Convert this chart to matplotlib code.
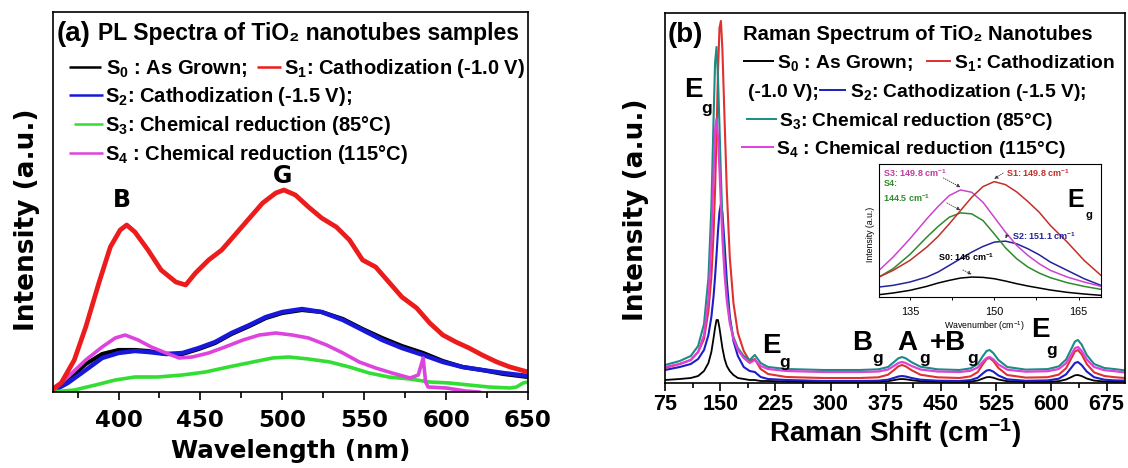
import matplotlib
matplotlib.use("Agg")
import matplotlib.pyplot as plt
from matplotlib.lines import Line2D
from matplotlib.ticker import MultipleLocator

plt.rcParams['font.family'] = ['DejaVu Sans']
plt.rcParams['mathtext.fontset'] = 'custom'
plt.rcParams['mathtext.rm'] = 'Liberation Sans'
plt.rcParams['mathtext.bf'] = 'Liberation Sans:bold'
plt.rcParams['mathtext.it'] = 'Liberation Sans:italic'

# ---------------- (a) PL spectra ----------------
pl_s0_x = [359, 369, 380, 390, 400, 410, 418, 429, 439, 449, 459, 469, 480, 490, 500, 512, 524, 537, 549, 561, 573, 586, 598, 610, 622, 635, 650]
pl_s0_y = [0, 12, 28, 38, 42, 42, 41, 38, 38, 43, 49, 58, 66, 74, 79, 82, 80, 73, 63, 54, 46, 39, 31, 25, 22, 18, 15]
pl_s1_x = [359, 365, 373, 380, 388, 395, 401, 405, 410, 418, 426, 435, 441, 447, 455, 463, 471, 480, 488, 496, 501, 508, 516, 524, 533, 541, 549, 557, 565, 573, 582, 590, 598, 606, 614, 622, 631, 639, 650]
pl_s1_y = [2, 9, 32, 65, 109, 145, 162, 167, 160, 142, 122, 110, 107, 119, 132, 142, 157, 174, 189, 199, 202, 197, 185, 174, 165, 152, 132, 125, 110, 95, 84, 69, 57, 50, 44, 37, 30, 25, 20]
pl_s2_x = [359, 369, 380, 390, 400, 410, 418, 429, 439, 449, 459, 469, 480, 490, 500, 512, 524, 537, 549, 561, 573, 586, 598, 610, 622, 635, 650]
pl_s2_y = [0, 9, 22, 34, 39, 41, 40, 38, 39, 44, 50, 59, 67, 75, 80, 83, 80, 72, 62, 52, 44, 37, 30, 25, 22, 19, 16]
pl_s3_x = [359, 373, 386, 398, 410, 424, 439, 453, 467, 482, 494, 504, 516, 529, 541, 553, 565, 578, 590, 602, 614, 626, 639, 643, 647, 650]
pl_s3_y = [0, 2, 7, 12, 15, 15, 17, 20, 25, 30, 34, 35, 33, 30, 25, 19, 15, 13, 10, 9, 7, 5, 4, 5, 9, 10]
pl_s4_x = [359, 369, 380, 390, 398, 404, 412, 420, 429, 437, 445, 455, 465, 476, 486, 496, 506, 516, 527, 537, 547, 557, 567, 578, 583, 586, 587.5, 589, 600, 612, 620]
pl_s4_y = [0, 15, 32, 45, 54, 57, 52, 45, 39, 34, 35, 39, 45, 52, 57, 59, 57, 54, 47, 39, 30, 24, 19, 14, 17, 34, 10, 5, 4, 1, 0]
pl_ticks = [400, 450, 500, 550, 600, 650]

# ---------------- (b) Raman spectra ----------------
ram_x = [75, 95, 110, 120, 128, 134, 138, 141, 143, 145, 147, 149, 151, 153, 156, 159, 163, 168, 174, 182,
         190, 197, 205, 215, 240, 290, 340, 365, 378, 387, 392, 397, 402, 410, 422, 445, 475, 490, 500, 507,
         512, 516, 521, 528, 540, 565, 595, 610, 620, 627, 632, 636, 641, 648, 658, 672, 686, 700]
ram_s0 = [3, 4, 5, 7, 12, 20, 31, 45, 55, 63, 63, 55, 45, 35, 24, 17, 12, 8, 5, 4,
          3, 3, 2, 2, 1.5, 1, 1, 1.2, 1.8, 3, 3.7, 4, 3.7, 2.8, 1.8, 1.2, 1, 1.4, 2.5, 4.5,
          5.8, 6, 5.3, 3.5, 1.8, 1.1, 1.2, 1.8, 3.5, 5.9, 7.7, 8, 7, 4.5, 2.4, 1.5, 1.2, 1.1]
ram_s1 = [15, 19, 23, 31, 44, 72, 106, 150, 193, 249, 311, 355, 362, 333, 262, 192, 126, 80, 50, 32,
          22, 24, 14, 9, 6, 5, 5, 5.7, 8.3, 13.5, 16.7, 18, 16.7, 12.8, 8.3, 5.7, 5, 6.6, 11, 19,
          24, 25, 22, 15, 8, 5.4, 5.8, 8.4, 14.8, 24.6, 31.6, 33, 28.8, 19, 10.6, 7, 5.8, 5]
ram_s2 = [13, 16, 19, 24, 33, 48, 66, 87, 106, 128, 152, 171, 179, 170, 138, 102, 67, 42, 27, 16,
          12, 11, 6, 4, 3, 2, 2, 2.3, 3.3, 5.3, 6.5, 7, 6.5, 5, 3.3, 2.3, 2, 2.9, 5.3, 9.7,
          12.5, 13, 11.4, 7.5, 3.7, 2.2, 2.6, 4.3, 8.7, 15.3, 20, 21, 18, 11.5, 5.8, 3.3, 2.6, 2.4]
ram_s3 = [18, 22, 27, 37, 59, 105, 176, 264, 320, 336, 305, 257, 207, 163, 117, 88, 63, 46, 35, 27,
          23, 28, 20, 16, 14, 13, 13, 13.7, 16, 21.5, 24.7, 26, 24.7, 20.8, 16.3, 13.7, 13, 14.6, 19, 27,
          32, 33, 30, 23, 16, 13.4, 13.9, 16.6, 23.5, 34, 41.5, 43, 38.5, 28, 19, 15, 13.9, 12.6]
ram_s4 = [16, 19, 23, 31, 48, 84, 140, 209, 253, 264, 246, 214, 178, 145, 108, 82, 60, 44, 33, 25,
          20, 23, 17, 14, 12, 11, 11, 11.5, 13.5, 17.5, 20, 21, 20, 17, 13.5, 11.5, 11, 12.2, 15.5, 21.5,
          25, 26, 23.8, 18.5, 13.3, 11.3, 11.8, 14, 19.8, 28.5, 34.8, 36, 32.3, 23.5, 16, 12.8, 11.8, 10.5]
ram_ticks = [75, 150, 225, 300, 375, 450, 525, 600, 675]

# ---------------- inset (Eg region) ----------------
ins_x = [129.5, 132, 135, 138, 140, 142, 144, 146, 148, 150, 152, 154, 156, 158, 160, 163, 166, 169]
ins_black = [7, 12, 20, 32, 42, 50, 57, 60, 59, 55, 48, 40, 33, 27, 21, 14, 9, 5]
ins_red = [60, 80, 110, 150, 182, 220, 260, 300, 332, 347, 338, 316, 287, 255, 215, 165, 110, 65]
ins_blue = [30, 35, 45, 60, 75, 95, 115, 135, 152, 165, 168, 160, 145, 127, 105, 80, 55, 35]
ins_green = [60, 85, 128, 180, 212, 240, 253, 250, 230, 190, 148, 115, 90, 72, 58, 43, 32, 23]
ins_magenta = [80, 120, 175, 235, 272, 305, 322, 315, 285, 240, 195, 155, 125, 100, 80, 60, 45, 32]
ins_ticks = [135, 150, 165]

W, H = 1128, 468
fig = plt.figure(figsize=(W / 100, H / 100), dpi=100)

LIB = 'Liberation Sans'
DJV = 'DejaVu Sans'


def ftxt(px, py, s, size, family=LIB, color='black', ha='left', va='baseline', weight='bold'):
    fig.text(px / W, 1 - py / H, s, fontsize=size, fontfamily=family, color=color,
             ha=ha, va=va, fontweight=weight)


def fhandle(px0, px1, py, color, lw=1.8):
    fig.add_artist(Line2D([px0 / W, px1 / W], [1 - py / H] * 2, transform=fig.transFigure,
                          color=color, lw=lw, solid_capstyle='butt'))


# ======== panel (a) ========
c_a = {'s0': '#000000', 's1': '#ec1c1c', 's2': '#1818d8', 's3': '#33dd33', 's4': '#dd44dd'}
ax1 = fig.add_axes([53 / W, 1 - 392 / H, 475 / W, 380 / H])
ax1.plot(pl_s0_x, pl_s0_y, color=c_a['s0'], lw=3.0)
ax1.plot(pl_s2_x, pl_s2_y, color=c_a['s2'], lw=3.2)
ax1.plot(pl_s3_x, pl_s3_y, color=c_a['s3'], lw=2.6)
ax1.plot(pl_s4_x, pl_s4_y, color=c_a['s4'], lw=2.6)
ax1.plot(pl_s1_x, pl_s1_y, color=c_a['s1'], lw=3.4)
ax1.set_xlim(360, 650)
ax1.set_ylim(0, 380)
ax1.set_yticks([])
ax1.set_xticks(pl_ticks)
ax1.set_xticklabels([str(t) for t in pl_ticks], fontsize=16.5, fontweight='bold', fontfamily=DJV)
ax1.xaxis.set_minor_locator(MultipleLocator(25))
ax1.tick_params(axis='x', which='major', direction='out', length=6, width=1.2, pad=6)
ax1.tick_params(axis='x', which='minor', direction='out', length=4, width=1.2)
for sp in ax1.spines.values():
    sp.set_linewidth(1.2)
ax1.set_xlabel('Wavelength (nm)', fontsize=17.7, fontweight='bold', fontfamily=DJV)
ax1.xaxis.label.set_va('center')
ax1.xaxis.set_label_coords(0.5, (392 - 451) / 380)
ax1.set_ylabel('Intensity (a.u.)', fontsize=19, fontweight='bold', fontfamily=DJV)
ax1.yaxis.label.set_va('center')
ax1.yaxis.set_label_coords((27 - 53) / 475, (392 - 220) / 380)

ftxt(57, 41, '(a)', 20)
ftxt(98, 40, 'PL Spectra of TiO\u2082 nanotubes samples', 16.5)
fhandle(69, 101, 67, c_a['s0'])
ftxt(106, 74.3, r'S$_\mathbf{0}$ : As Grown;', 14.5)
fhandle(257, 281, 67, c_a['s1'])
ftxt(284, 74.3, r'S$_\mathbf{1}$: Cathodization (-1.0 V)', 14.5)
fhandle(69, 103, 95, c_a['s2'])
ftxt(105, 102.3, r'S$_\mathbf{2}$: Cathodization (-1.5 V);', 14.5)
fhandle(74, 103, 124, c_a['s3'])
ftxt(105, 131.3, r'S$_\mathbf{3}$: Chemical reduction (85°C)', 14.5)
fhandle(69, 103, 153, c_a['s4'])
ftxt(105, 160.3, r'S$_\mathbf{4}$ : Chemical reduction (115°C)', 14.5)
ftxt(122, 200, 'B', 17, family=DJV, ha='center', va='center')
ftxt(283, 176, 'G', 17, family=DJV, ha='center', va='center')

# ======== panel (b) ========
c_b = {'s0': '#000000', 's1': '#e03030', 's2': '#1c1cc8', 's3': '#1a8c84', 's4': '#e040d8'}
ax2 = fig.add_axes([665 / W, 1 - 383 / H, 460 / W, 370 / H])
ax2.plot(ram_x, ram_s0, color=c_b['s0'], lw=1.3)
ax2.plot(ram_x, ram_s2, color=c_b['s2'], lw=1.5)
ax2.plot(ram_x, ram_s1, color=c_b['s1'], lw=1.5)
ax2.plot(ram_x, ram_s3, color=c_b['s3'], lw=1.5)
ax2.plot(ram_x, ram_s4, color=c_b['s4'], lw=1.6)
ax2.set_xlim(75, 700)
ax2.set_ylim(0, 370)
ax2.set_yticks([])
ax2.set_xticks(ram_ticks)
ax2.set_xticklabels([str(t) for t in ram_ticks], fontsize=15.5, fontweight='bold', fontfamily=LIB)
ax2.xaxis.set_minor_locator(MultipleLocator(37.5))
ax2.tick_params(axis='x', which='major', direction='out', length=5.5, width=1.2, pad=2.5)
ax2.tick_params(axis='x', which='minor', direction='out', length=3.5, width=1.2)
for sp in ax2.spines.values():
    sp.set_linewidth(1.2)
ax2.set_xlabel(r'Raman Shift (cm$^{\mathbf{-1}}$)', fontsize=20, fontweight='bold', fontfamily=LIB)
ax2.xaxis.label.set_va('center')
ax2.xaxis.set_label_coords(0.5, (383 - 433) / 370)
ax2.set_ylabel('Intensity (a.u.)', fontsize=19, fontweight='bold', fontfamily=DJV)
ax2.yaxis.label.set_va('center')
ax2.yaxis.set_label_coords((636 - 665) / 460, (383 - 210) / 370)

ftxt(668, 42, '(b)', 20)
ftxt(743, 40.3, 'Raman Spectrum of TiO\u2082 Nanotubes', 14.6)
fhandle(743, 774, 61, c_b['s0'], lw=1.4)
ftxt(777, 67.9, r'S$_\mathbf{0}$ : As Grown;', 13.9)
fhandle(926, 951, 61, c_b['s1'], lw=1.4)
ftxt(954, 67.9, r'S$_\mathbf{1}$: Cathodization', 13.9)
ftxt(748, 96.9, '(-1.0 V);', 13.9)
fhandle(819, 846, 90, c_b['s2'], lw=1.4)
ftxt(850, 96.9, r'S$_\mathbf{2}$: Cathodization (-1.5 V);', 13.9)
fhandle(746, 777, 119, c_b['s3'], lw=1.4)
ftxt(779, 125.9, r'S$_\mathbf{3}$: Chemical reduction (85°C)', 13.9)
fhandle(741, 774, 147, c_b['s4'], lw=1.4)
ftxt(776, 153.9, r'S$_\mathbf{4}$ : Chemical reduction (115°C)', 13.9)

# mode labels
for (ex, ey, gx, gy, big) in [(693, 90, 707, 108, 'E'), (771, 346, 785, 362, 'E'),
                              (862, 343, 878, 359, 'B'), (907, 343, 925, 359, 'A'),
                              (948, 343, 973, 359, '+B'), (1040, 330, 1052, 350, 'E')]:
    ftxt(ex, ey, big, 20, ha='center', va='center')
    ftxt(gx, gy, 'g', 12.5, ha='center', va='center')

# ======== inset ========
ax3 = fig.add_axes([879 / W, 1 - 297 / H, 222 / W, 133 / H])
ins_c = {'black': '#000000', 'red': '#c0302a', 'blue': '#23239a', 'green': '#2f8a2f', 'magenta': '#cc44cc'}
ax3.plot(ins_x, ins_black, color=ins_c['black'], lw=1.1)
ax3.plot(ins_x, ins_blue, color=ins_c['blue'], lw=1.1)
ax3.plot(ins_x, ins_green, color=ins_c['green'], lw=1.1)
ax3.plot(ins_x, ins_magenta, color=ins_c['magenta'], lw=1.1)
ax3.plot(ins_x, ins_red, color=ins_c['red'], lw=1.1)
ax3.set_xlim(129.5, 169)
ax3.set_ylim(0, 400)
ax3.set_yticks([])
ax3.set_xticks(ins_ticks)
ax3.set_xticklabels([str(t) for t in ins_ticks], fontsize=7.8, fontfamily=LIB)
ax3.xaxis.set_minor_locator(MultipleLocator(7.5))
ax3.tick_params(axis='x', which='both', direction='out', length=2.5, width=0.7, pad=5)
for sp in ax3.spines.values():
    sp.set_linewidth(0.8)
ax3.set_xlabel(r'Wavenumber (cm$^{-1}$)', fontsize=6.3, fontfamily=LIB)
ax3.xaxis.label.set_va('center')
ax3.xaxis.set_label_coords(0.477, -0.218)
ax3.set_ylabel('Intensity (a.u.)', fontsize=6.3, fontfamily=LIB)
ax3.yaxis.label.set_va('center')
ax3.yaxis.set_label_coords(-0.04, 0.47)


def ins_note(fx_, fy_, s, color):
    ax3.text(fx_, fy_, s, transform=ax3.transAxes, fontsize=6.5, fontweight='bold',
             fontfamily=LIB, color=color, ha='left', va='center')


def ins_arrow(ys, start):
    k = max(range(len(ys)), key=lambda i: ys[i])
    ax3.annotate('', xy=(ins_x[k], ys[k] + 8), xycoords='data', xytext=start,
                 textcoords='axes fraction',
                 arrowprops=dict(arrowstyle='-|>', lw=0.6, ls=':', color='#333333',
                                 mutation_scale=5, shrinkA=0, shrinkB=0))


ins_note(0.02, 0.93, r'S3: 149.8 cm$^{\mathbf{-1}}$', '#c23a9e')
ins_note(0.02, 0.85, 'S4:', ins_c['green'])
ins_note(0.02, 0.745, r'144.5 cm$^{\mathbf{-1}}$', ins_c['green'])
ins_note(0.57, 0.93, r'S1: 149.8 cm$^{\mathbf{-1}}$', ins_c['red'])
ins_note(0.60, 0.46, r'S2: 151.1 cm$^{\mathbf{-1}}$', ins_c['blue'])
ins_note(0.265, 0.30, r'S0: 146 cm$^{\mathbf{-1}}$', 'black')
ins_arrow(ins_magenta, (0.29, 0.895))
ins_arrow(ins_green, (0.306, 0.707))
ins_arrow(ins_red, (0.559, 0.932))
ins_arrow(ins_blue, (0.577, 0.466))
ins_arrow(ins_black, (0.378, 0.203))
ax3.text(0.885, 0.73, 'E', transform=ax3.transAxes, fontsize=18, fontweight='bold',
         fontfamily=LIB, ha='center', va='center')
ax3.text(0.945, 0.62, 'g', transform=ax3.transAxes, fontsize=8, fontweight='bold',
         fontfamily=LIB, ha='center', va='center')

fig.savefig('out.png', dpi=100)
